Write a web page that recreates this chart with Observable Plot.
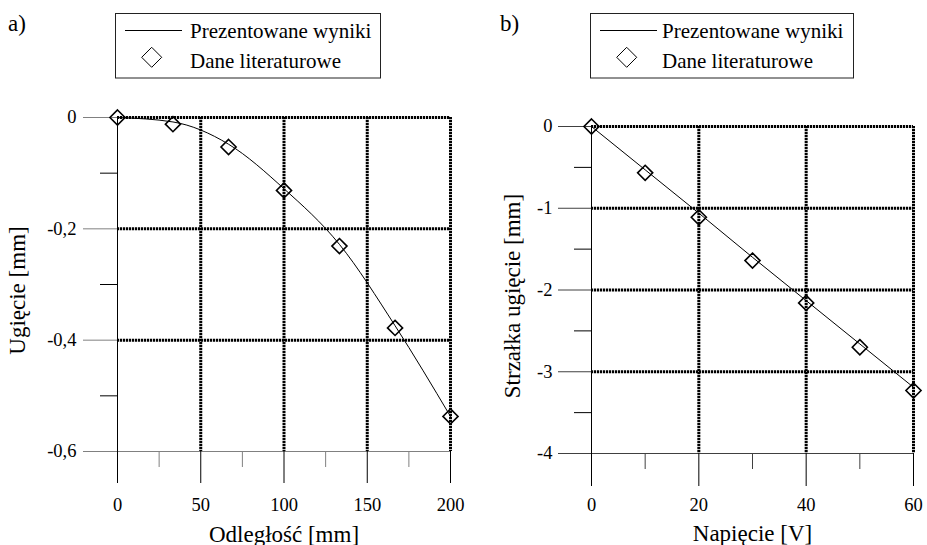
<!DOCTYPE html>
<html>
<head>
<meta charset="utf-8">
<script src="https://cdn.jsdelivr.net/npm/d3@7"></script>
<script src="https://cdn.jsdelivr.net/npm/@observablehq/plot@0.6"></script>
<style>
  html, body { margin: 0; padding: 0; background: white; }
  #wrap { position: relative; width: 927px; height: 545px; overflow: hidden; font-family: "Liberation Serif", serif; }
  #wrap > * { position: absolute; top: 0; }
  #pa { left: 0; }
  #pb { left: 463px; }
  #overlay { left: 0; pointer-events: none; }
</style>
</head>
<body>
<div id="wrap">
  <div id="pa"></div>
  <div id="pb"></div>
</div>
<script>
// ---------- Data ----------
// Panel a)
const xA = [0, 33.3, 66.7, 100, 133.3, 166.7, 200];
const lineA = [0, -0.008, -0.048, -0.128, -0.228, -0.374, -0.537];
const litA = [0, -0.012, -0.053, -0.131, -0.231, -0.378, -0.537];
const xTicksA = [0, 50, 100, 150, 200];
const xMinorA = [25, 75, 125, 175];
const yTicksA = [0, -0.2, -0.4, -0.6];
const yMinorA = [-0.1, -0.3, -0.5];
const gridXA = [50, 100, 150, 200];
const gridYA = [0, -0.2, -0.4];

// Panel b)
const xB = [0, 10, 20, 30, 40, 50, 60];
const lineB = [0, -0.53, -1.06, -1.6, -2.13, -2.66, -3.19];
const litB = [0, -0.567, -1.11, -1.64, -2.158, -2.70, -3.23];
const xTicksB = [0, 20, 40, 60];
const xMinorB = [10, 30, 50];
const yTicksB = [0, -1, -2, -3, -4];
const yMinorB = [-0.5, -1.5, -2.5, -3.5];
const gridXB = [20, 40, 60];
const gridYB = [0, -1, -2, -3];

const legendLabels = ["Prezentowane wyniki", "Dane literaturowe"];
const panelLabels = ["a)", "b)"];
const xTitles = ["Odległość [mm]", "Napięcie [V]"];
const yTitles = ["Ugięcie [mm]", "Strzałka ugięcie [mm]"];

// ---------- Helpers ----------
const FONT = "Liberation Serif";
const fmt = d => String(d).replace(".", ",");
const gridStyle = {stroke: "black", strokeWidth: 3, strokeDasharray: "2.2,0.8"};
const rowsA = xA.map((x, i) => ({x, line: lineA[i], lit: litA[i]}));
const rowsB = xB.map((x, i) => ({x, line: lineB[i], lit: litB[i]}));

function panel(cfg) {
  return Plot.plot({
    width: cfg.width, height: 545,
    marginLeft: cfg.ml, marginRight: cfg.mr, marginTop: cfg.mt, marginBottom: cfg.mb,
    x: {domain: cfg.xDomain},
    y: {domain: cfg.yDomain},
    style: {fontFamily: FONT, fontSize: "18.5px", color: "black", background: "transparent", overflow: "visible"},
    marks: [
      Plot.ruleY(cfg.gridY, gridStyle),
      Plot.ruleX(cfg.gridX, gridStyle),
      Plot.ruleY([cfg.yDomain[0]], {stroke: cfg.hColor}),
      Plot.ruleX([0], {stroke: "black"}),
      Plot.axisY({ticks: cfg.yTicks, tickSize: cfg.yMajor, tickPadding: cfg.yPad, stroke: cfg.hColor, tickFormat: fmt, label: null, fontSize: 18.5, fontFamily: FONT}),
      Plot.axisY({ticks: cfg.yMinor, tickSize: cfg.yMinorSize, stroke: "black", tickFormat: () => "", label: null}),
      Plot.axisX({ticks: cfg.xTicks, tickSize: cfg.xMajor, tickPadding: cfg.xPad, stroke: "black", tickFormat: d => String(d), label: null, fontSize: 18.5, fontFamily: FONT}),
      Plot.axisX({ticks: cfg.xMinor, tickSize: cfg.xMinorSize, stroke: cfg.hColor, tickFormat: () => "", label: null}),
      Plot.line(cfg.rows, {x: "x", y: "line", stroke: "black", strokeWidth: 1, curve: cfg.curve}),
      Plot.dot(cfg.rows, {x: "x", y: "lit", symbol: "diamond2", r: 6.8, stroke: "black", strokeWidth: 1.6, fill: "none"}),
      Plot.text([cfg.xTitle], {text: d => d, frameAnchor: "bottom", dy: cfg.xTitleDy, lineAnchor: "bottom", fontSize: 23, fontFamily: FONT}),
      Plot.text([cfg.yTitle], {text: d => d, frameAnchor: "left", dx: cfg.yTitleDx, dy: cfg.yTitleDy, rotate: -90, lineAnchor: "bottom", textAnchor: "middle", fontSize: 23, fontFamily: FONT})
    ]
  });
}

document.getElementById("pa").append(panel({
  width: 463, ml: 117, mr: 13, mt: 117, mb: 94,
  xDomain: [0, 200], yDomain: [-0.6, 0],
  gridX: gridXA, gridY: gridYA, hColor: "#808080",
  yTicks: yTicksA, yMinor: yMinorA, yMajor: 34, yMinorSize: 17, yPad: 7,
  xTicks: xTicksA, xMinor: xMinorA, xMajor: 32, xMinorSize: 16, xPad: 14,
  rows: rowsA, curve: "monotone-x",
  xTitle: xTitles[0], xTitleDy: 90,
  yTitle: yTitles[0], yTitleDx: -93, yTitleDy: 6
}));

document.getElementById("pb").append(panel({
  width: 464, ml: 128, mr: 14, mt: 126, mb: 92,
  xDomain: [0, 60], yDomain: [-4, 0],
  gridX: gridXB, gridY: gridYB, hColor: "#404040",
  yTicks: yTicksB, yMinor: yMinorB, yMajor: 33, yMinorSize: 17, yPad: 6,
  xTicks: xTicksB, xMinor: xMinorB, xMajor: 33, xMinorSize: 16, xPad: 11,
  rows: rowsB, curve: "linear",
  xTitle: xTitles[1], xTitleDy: 87,
  yTitle: yTitles[1], yTitleDx: -72, yTitleDy: 6
}));

// ---------- Legends and panel labels ----------
const svg = d3.select("#wrap").append("svg")
  .attr("id", "overlay").attr("width", 927).attr("height", 545)
  .attr("font-family", FONT);

const legends = [
  {bx: 115.5, bw: 265, lx0: 125, lx1: 182, tx: 190, dx: 151.7, px: 8, label: panelLabels[0]},
  {bx: 590.5, bw: 263, lx0: 600, lx1: 657, tx: 662, dx: 626.7, px: 500, label: panelLabels[1]}
];
legends.forEach(L => {
  svg.append("text").attr("x", L.px).attr("y", 31).attr("font-size", 23).attr("font-family", FONT).text(L.label);
  svg.append("rect").attr("x", L.bx).attr("y", 13.5).attr("width", L.bw).attr("height", 64.5)
    .attr("fill", "white").attr("stroke", "#222").attr("stroke-width", 1);
  svg.append("line").attr("x1", L.lx0).attr("x2", L.lx1).attr("y1", 30.5).attr("y2", 30.5)
    .attr("stroke", "black").attr("stroke-width", 1);
  svg.append("text").attr("x", L.tx).attr("y", 38).attr("font-size", 21).attr("font-family", FONT).text(legendLabels[0]);
  const cy = 57.3, h = 10;
  svg.append("path").attr("d", `M${L.dx},${cy - h}L${L.dx + h},${cy}L${L.dx},${cy + h}L${L.dx - h},${cy}Z`)
    .attr("fill", "none").attr("stroke", "black").attr("stroke-width", 1);
  svg.append("text").attr("x", L.tx).attr("y", 68).attr("font-size", 21).attr("font-family", FONT).text(legendLabels[1]);
});
</script>
</body>
</html>
